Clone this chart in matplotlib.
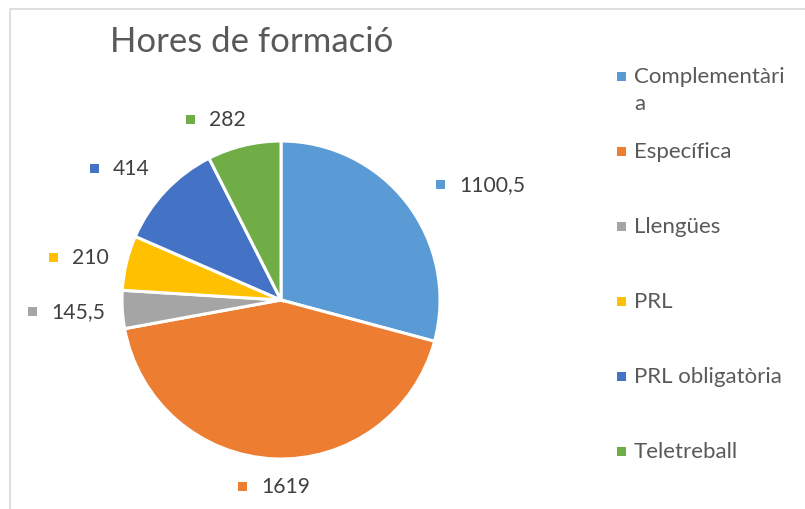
import matplotlib.pyplot as plt
from matplotlib.patches import Rectangle

# data
categories = ["Complementària", "Específica", "Llengües", "PRL", "PRL obligatòria", "Teletreball"]
hours = [1100.5, 1619, 145.5, 210, 414, 282]
value_labels = ["1100,5", "1619", "145,5", "210", "414", "282"]
legend_labels = ["Complementàri\na", "Específica", "Llengües", "PRL", "PRL obligatòria", "Teletreball"]
colors = ["#5B9BD5", "#ED7D31", "#A5A5A5", "#FFC000", "#4472C4", "#70AD47"]

# layout (pixel space)
W, H = 805, 510
label_pos = [(440, 185), (242, 487), (32, 312), (53, 258), (94, 169), (190, 120)]
legend_y = [77, 152, 227, 302, 377, 452]
txt_color = "#595959"
plt.rcParams['font.family'] = ['Lato', 'DejaVu Sans']

fig = plt.figure(figsize=(W / 100, H / 100), dpi=100)
ax = fig.add_axes([0, 0, 1, 1])
ax.set_aspect("equal")

# chart border (only left/top visible)
ax.plot([10, 10, W + 5], [H + 5, 10, 10], color="#d9d9d9", lw=1.2)

# the pie (y axis inverted, so counterclock=True reads clockwise on screen)
ax.pie(hours, colors=colors, startangle=-90, counterclock=True,
       center=(281, 301), radius=159, frame=True,
       wedgeprops=dict(edgecolor="white", linewidth=2.2))
ax.set_xlim(0, W)
ax.set_ylim(H, 0)
ax.axis("off")

ax.text(110, 42, "Hores de formació", fontsize=25, color=txt_color,
        ha="left", va="center")

# data labels
for (x, y), lab, c in zip(label_pos, value_labels, colors):
    ax.add_patch(Rectangle((x - 4.5, y - 4.5), 9, 9, color=c, lw=0))
    ax.text(x + 19, y, lab, fontsize=15.2, color="#404040",
            ha="left", va="center")

# legend
for y, lab, c in zip(legend_y, legend_labels, colors):
    ax.add_patch(Rectangle((617, y - 4.5), 9, 9, color=c, lw=0))
    ax.text(634, y - 10, lab, fontsize=16, color=txt_color,
            ha="left", va="top", linespacing=1.42)

fig.savefig("out.png", dpi=100)
